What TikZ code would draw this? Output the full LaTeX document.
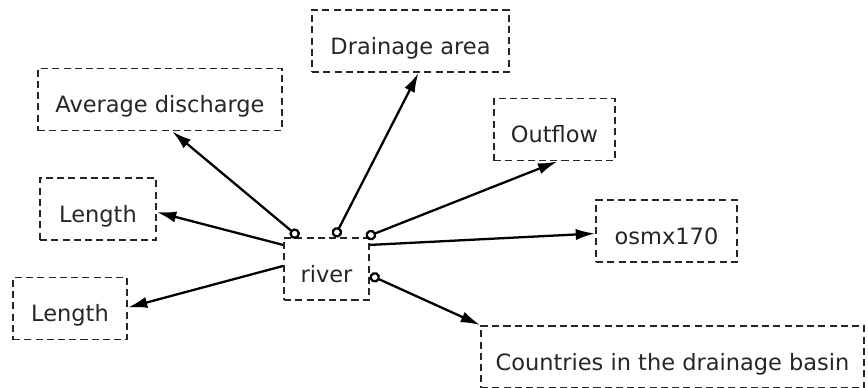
\documentclass[tikz,border=0pt]{standalone}
\usepackage{fontspec}
\setmainfont{DejaVu Sans}
\usetikzlibrary{arrows.meta}

\begin{document}
\begin{tikzpicture}[x=0.02cm,y=-0.02cm,
  attr/.style={draw=black!85,line width=1.1pt,dash pattern=on 4pt off 2.4pt,
    minimum height=1.24cm,inner sep=0pt,text=black!85,
    text height=15pt,text depth=0pt,
    font=\fontsize{12.8}{15}\selectfont},
  link/.style={line width=1.3pt,-{Latex[length=11pt,width=6.4pt]}},
  olink/.style={line width=1.3pt,{Circle[open,length=6pt,width=6pt]}-{Latex[length=11pt,width=6.4pt]}}]
\useasboundingbox (0,0) rectangle (868,387) ;
\node[attr,minimum width=1.7cm] (river) at (326.5,269) {river} ;
\node[attr,minimum width=3.94cm] (area) at (410.5,41) {Drainage area} ;
\node[attr,minimum width=4.88cm] (disch) at (160,99.5) {Average discharge} ;
\node[attr,minimum width=2.42cm] (outflow) at (554.5,129.5) {Outflow} ;
\node[attr,minimum width=2.32cm] (len1) at (98,209) {Length} ;
\node[attr,minimum width=2.82cm] (osmx) at (666.5,231) {osmx170} ;
\node[attr,minimum width=2.28cm] (len2) at (70,308.5) {Length} ;
\node[attr,minimum width=7.66cm] (basin) at (672.5,357) {Countries in the drainage basin} ;
\draw[olink] (river.131.6) -- (disch.-69.1) ;
\draw[olink] (river.76.4) -- (area.-76.4) ;
\draw[olink] (river.39) -- (outflow.-85.5) ;
\draw[link] (river.151.6) -- (len1.-3) ;
\draw[link] (river.29.5) -- (osmx.-178.4) ;
\draw[link] (river.176) -- (len2.1.8) ;
\draw[olink] (river.-8) -- (basin.north west) ;
\end{tikzpicture}
\end{document}
